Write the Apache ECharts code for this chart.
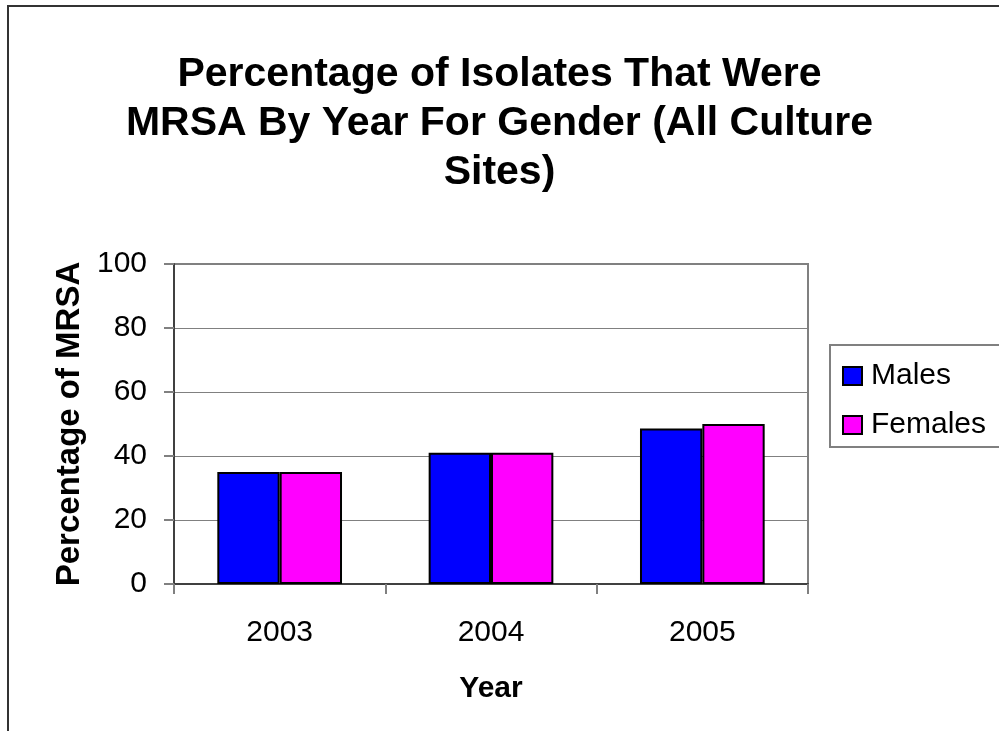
<!DOCTYPE html>
<html>
<head>
<meta charset="utf-8">
<title>MRSA by Year and Gender</title>
<script src="https://cdn.jsdelivr.net/npm/echarts@6/dist/echarts.min.js"></script>
<style>
  html, body { margin: 0; padding: 0; background: #fff; overflow: hidden; }
  #wrap { position: relative; width: 999px; height: 731px; overflow: hidden; }
  #frame { position: absolute; left: 7px; top: 5px; width: 1100px; height: 900px;
           border: 2px solid #333; box-sizing: border-box; pointer-events: none; }
  #chart { position: absolute; left: 0; top: 0; width: 999px; height: 731px; }
</style>
</head>
<body>
<div id="wrap">
  <div id="chart"></div>
  <div id="frame"></div>
</div>
<script>
// Percentage of isolates that were MRSA, per year and gender
const years = ['2003', '2004', '2005'];
const males = [35, 41, 48.6];
const females = [35, 41, 50];
const seriesNames = ['Males', 'Females'];
const seriesColors = ['#0000FF', '#FF00FF'];
const yTicks = { min: 0, max: 100, interval: 20 };
const titleLines = ['Percentage of Isolates That Were', 'MRSA By Year For Gender (All Culture', 'Sites)'];

const FONT = 'Arial, "Liberation Sans", sans-serif';

const chart = echarts.init(document.getElementById('chart'), null, { renderer: 'canvas' });

// one centred title block per line, 49px apart
const titles = titleLines.map((line, i) => ({
  text: line,
  left: 'center',
  top: 50 + i * 49,
  padding: 0,
  textStyle: { fontFamily: FONT, fontSize: 41, fontWeight: 'bold', lineHeight: 49, color: '#000' }
}));

chart.setOption({
  backgroundColor: 'transparent',
  animation: false,
  textStyle: { fontFamily: FONT, color: '#000' },
  title: titles,
  legend: {
    orient: 'vertical',
    left: 830,
    top: 345,
    padding: [16, 60, 7, 12],
    itemGap: 19,
    itemWidth: 19,
    itemHeight: 18,
    borderColor: '#808080',
    borderWidth: 2,
    icon: 'rect',
    data: seriesNames,
    textStyle: { fontFamily: FONT, fontSize: 30, color: '#000', padding: [0, 0, 0, 4] }
  },
  grid: {
    left: 174, top: 264, width: 634, height: 320,
    show: true, borderColor: '#808080', borderWidth: 2, backgroundColor: '#fff'
  },
  xAxis: {
    type: 'category',
    data: years,
    name: 'Year',
    nameLocation: 'middle',
    nameGap: 90,
    nameTextStyle: { fontFamily: FONT, fontSize: 30, fontWeight: 'bold', color: '#000' },
    axisLine: { lineStyle: { color: '#404040', width: 2 } },
    axisTick: { show: true, length: 10, lineStyle: { color: '#808080', width: 2 } },
    axisLabel: { fontFamily: FONT, fontSize: 30, color: '#000', margin: 34 }
  },
  yAxis: {
    type: 'value',
    min: yTicks.min, max: yTicks.max, interval: yTicks.interval,
    name: 'Percentage of MRSA',
    nameLocation: 'middle',
    nameGap: 84,
    nameTextStyle: { fontFamily: FONT, fontSize: 33, fontWeight: 'bold', color: '#000' },
    axisLine: { show: true, lineStyle: { color: '#404040', width: 2 } },
    axisTick: { show: true, length: 10, lineStyle: { color: '#808080', width: 2 } },
    axisLabel: { fontFamily: FONT, fontSize: 30, color: '#000', margin: 27 },
    splitLine: { show: true, lineStyle: { color: '#808080', width: 1 } }
  },
  series: [
    {
      name: seriesNames[0], type: 'bar', data: males,
      barGap: '0%', barCategoryGap: '41%',
      itemStyle: { color: seriesColors[0], borderColor: '#000', borderWidth: 2 }
    },
    {
      name: seriesNames[1], type: 'bar', data: females,
      barGap: '0%', barCategoryGap: '41%',
      itemStyle: { color: seriesColors[1], borderColor: '#000', borderWidth: 2 }
    }
  ]
});
</script>
</body>
</html>
